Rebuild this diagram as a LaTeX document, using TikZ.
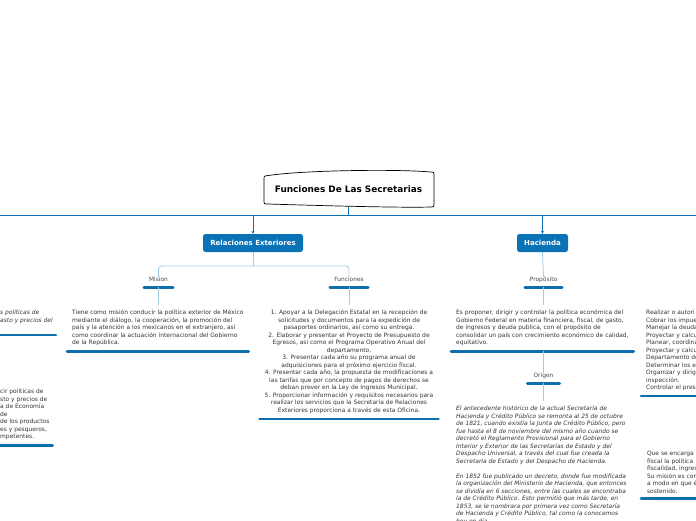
\documentclass[tikz,border=0pt]{standalone}
\usepackage{fontspec}
\setmainfont{DejaVu Sans}[ItalicFont={DejaVu Sans Oblique}, BoldFont={DejaVu Sans Bold}]
\usetikzlibrary{arrows.meta, calc}
\definecolor{mapblue}{HTML}{0B72B5}
\definecolor{ulblue}{HTML}{0E6FAE}
\definecolor{sublink}{HTML}{A3CBE6}
\definecolor{txtgray}{HTML}{333333}
\definecolor{lblgray}{HTML}{4A4A4A}
\tikzset{
  rootbox/.style = {inner sep=0pt, minimum width=170pt, minimum height=35pt,
                    font=\fontsize{8.9}{10}\selectfont\bfseries},
  main/.style    = {fill=mapblue, rounded corners=2.5pt, text=white, inner sep=0pt,
                    minimum height=18pt, font=\fontsize{7}{8}\selectfont\bfseries},
  uline/.style   = {draw=ulblue, line width=2.6pt, line cap=round},
  ul/.style      = {append after command={([yshift=-#1]\tikzlastnode.south west)
                    edge[uline] ([yshift=-#1]\tikzlastnode.south east)}},
  ul/.default    = 0pt,
  lbl/.style     = {ul, font=\fontsize{5.9}{6.5}\selectfont, text=lblgray, inner sep=0pt,
                    text height=4pt, text depth=6pt, minimum width=#1},
  txt/.style     = {font=\fontsize{5.95}{7.5}\selectfont, text=txtgray,
                    inner xsep=5pt, inner ysep=5pt},
  bus/.style     = {draw=mapblue, line width=0.8pt},
  sub/.style     = {draw=sublink, line width=0.8pt},
  tip/.style     = {-{Stealth[length=3pt, width=3pt]}},
}

\begin{document}
\begin{tikzpicture}[x=1pt, y=-1pt]
\useasboundingbox (0,0) rectangle (696,520);
\clip (0,0) rectangle (696,520);

% root
\node[rootbox] (root) at (348.5,189.5) {Funciones De Las Secretarias};
\draw[line width=0.7pt] (265,176) .. controls (300,170) and (400,169) .. (430,172)
  .. controls (434,172) .. (434,176) -- (434,202) .. controls (434,207) .. (430,207)
  .. controls (400,208) and (300,205) .. (268,204) .. controls (264,204) .. (264,200)
  -- (264,180) .. controls (264,177) .. (265,176) -- cycle;
\coordinate (busL) at (-5,215);
\coordinate (busR) at (701,215);
\draw[bus] (busL) -- (busR);
\draw[bus] (root.south) -- (root.south |- busL);

% main topics
\node[main, minimum width=100pt] (relex) at (253,243) {Relaciones Exteriores};
\node[main, minimum width=51pt] (hacienda) at (542.5,243) {Hacienda};
\draw[bus, tip] (relex.north |- busL) -- (relex.north);
\draw[bus, tip] (hacienda.north |- busL) -- (hacienda.north);

% Relaciones Exteriores
\node[lbl=29pt] (mision) at (158.5,282) {Mision};
\node[lbl=38pt] (funciones) at (349,282) {Funciones};
\coordinate (rejoin) at (relex.south |- 0,266);
\draw[sub] (relex.south) -- (rejoin);
\draw[sub, rounded corners=3pt] (mision.north) |- (rejoin) -| (funciones.north);

\node[txt, ul, align=left, anchor=north west] (misiontxt) at (67,305)
  {Tiene como misión conducir la política exterior de México\\
   mediante el diálogo, la cooperación, la promoción del\\
   país y la atención a los mexicanos en el extranjero, así\\
   como coordinar la actuación internacional del Gobierno\\
   de la República.};
\node[txt, ul, align=center, anchor=north] (funtxt) at (349,305)
  {1. Apoyar a la Delegación Estatal en la recepción de\\
   solicitudes y documentos para la expedición de\\
   pasaportes ordinarios, así como su entrega.\\
   2. Elaborar y presentar el Proyecto de Presupuesto de\\
   Egresos, así como el Programa Operativo Anual del\\
   departamento.\\
   3. Presentar cada año su programa anual de\\
   adquisiciones para el próximo ejercicio fiscal.\\
   4. Presentar cada año, la propuesta de modificaciones a\\
   las tarifas que por concepto de pagos de derechos se\\
   deban prever en la Ley de Ingresos Municipal.\\
   5. Proporcionar información y requisitos necesarios para\\
   realizar los servicios que la Secretaría de Relaciones\\
   Exteriores proporciona a través de esta Oficina.};
\draw[sub] (mision.south) -- (misiontxt.north -| mision.south);
\draw[sub] (funciones.south) -- (funtxt.north);

% Hacienda
\node[lbl=37pt] (proposito) at (543.5,282) {Propósito};
\node[txt, ul, align=left, anchor=north west] (proptxt) at (451,305)
  {Es proponer, dirigir y controlar la política económica del\\
   Gobierno Federal en materia financiera, fiscal, de gasto,\\
   de ingresos y deuda publica, con el propósito de\\
   consolidar un país con crecimiento económico de calidad,\\
   equitativo.};
\node[lbl=32pt] (origen) at (543.5,378) {Origen};
\node[txt, align=left, anchor=north west, font=\fontsize{5.95}{7.5}\selectfont\itshape]
  (origtxt) at (451,401)
  {El antecedente histórico de la actual Secretaría de\\
   Hacienda y Crédito Público se remonta al 25 de octubre\\
   de 1821, cuando existía la Junta de Crédito Público, pero\\
   fue hasta el 8 de noviembre del mismo año cuando se\\
   decretó el Reglamento Provisional para el Gobierno\\
   Interior y Exterior de las Secretarías de Estado y del\\
   Despacho Universal, a través del cual fue creada la\\
   Secretaría de Estado y del Despacho de Hacienda.\\[7.5pt]
   En 1852 fue publicado un decreto, donde fue modificada\\
   la organización del Ministerio de Hacienda, que entonces\\
   se dividía en 6 secciones, entre las cuales se encontraba\\
   la de Crédito Público. Esto permitió que más tarde, en\\
   1853, se le nombrara por primera vez como Secretaría\\
   de Hacienda y Crédito Público, tal como la conocemos\\
   hoy en día.};
\draw[sub] (hacienda.south) -- (proposito.north);
\draw[sub] (proposito.south) -- (proptxt.north -| proposito.south);
\draw[sub] (proptxt.south -| origen.north) -- (origen.north);
\draw[sub] (origen.south) -- (origtxt.north -| origen.south);

% cut-off branches at the edges
\node[txt, ul=6pt, align=left, anchor=north west, inner xsep=3pt,
      font=\fontsize{5.95}{7.5}\selectfont\itshape] (lefta) at (-3,305)
  {s políticas de\\asto y precios del};
\node[txt, ul, align=left, anchor=north west, inner xsep=3pt] (leftb) at (-3,384)
  {cir políticas de\\sto y precios de\\a de Economía\\de\\ de los productos\\
   es y pesqueros,\\mpetentes.};
\node[txt, ul, align=left, anchor=north west, minimum width=62pt] (righta) at (641,305)
  {Realizar o autori\\Cobrar los impue\\Manejar la deuda\\Proyectar y calcu\\
   Planear, coordina\\Proyectar y calcu\\Departamento de\\Determinar los e\\
   Organizar y dirig\\inspección.\\Controlar el pres};
\node[txt, ul, align=left, anchor=north west, minimum width=62pt] (rightb) at (641,446)
  {Que se encarga\\fiscal la política\\fiscalidad, ingres\\Su misión es con\\
   a modo en que é\\sostenido.};
\end{tikzpicture}
\end{document}
